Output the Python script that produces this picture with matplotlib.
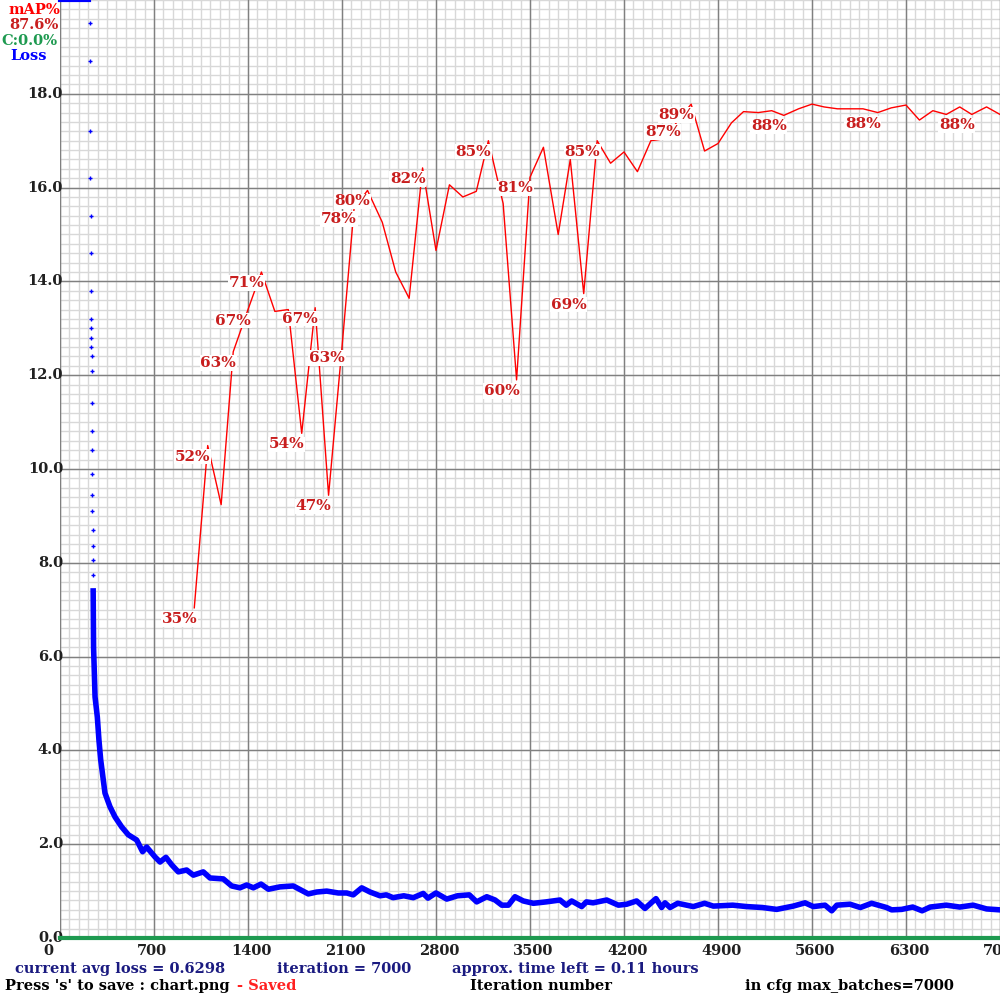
import numpy as np
import matplotlib
matplotlib.use("Agg")
import matplotlib.pyplot as plt

# ---------------- data ----------------
# first iterations: loss above the chart top, drawn clipped at the top edge
early_iter = [0, 60, 120, 180, 215]
early_loss = [900.0, 250.0, 60.0, 30.0, 21.0]

# sparse dots while loss falls fast
dot_iter = [220, 222, 224, 226, 228, 229, 230, 231, 232, 233, 234, 235, 236, 237, 238, 239, 240, 241, 242, 243, 244, 245, 246]
dot_loss = [19.5, 18.7, 17.2, 16.2, 15.4, 14.6, 13.8, 13.2, 13.0, 12.8, 12.6, 12.4, 12.1, 11.4, 10.8, 10.4, 9.9, 9.45, 9.1, 8.7, 8.35, 8.05, 7.75]

# continuous loss curve
loss_iter = [247, 250, 261, 278, 290, 303, 335, 372, 410, 459, 509, 571, 615, 645, 707, 745, 789, 832, 881,
             943, 993, 1067, 1117, 1216, 1278, 1340, 1390, 1440, 1497, 1552, 1638, 1737, 1849, 1911, 1986,
             2072, 2135, 2184, 2247, 2309, 2383, 2430, 2480, 2560, 2631, 2705, 2740, 2800, 2880, 2960, 3048,
             3103, 3178, 3240, 3290, 3339, 3388, 3450, 3525, 3620, 3723, 3770, 3810, 3885, 3920, 3970, 4071,
             4158, 4220, 4294, 4356, 4438, 4480, 4505, 4543, 4600, 4716, 4800, 4865, 5010, 5113, 5230, 5337,
             5460, 5548, 5610, 5697, 5747, 5785, 5883, 5960, 6044, 6155, 6193, 6268, 6350, 6420, 6480, 6600,
             6700, 6800, 6900, 7000]
loss_vals = [7.4, 6.2, 5.14, 4.71, 4.22, 3.8, 3.09, 2.8, 2.58, 2.37, 2.2, 2.09, 1.84, 1.94, 1.73, 1.62, 1.72, 1.56, 1.41,
             1.45, 1.34, 1.41, 1.28, 1.26, 1.11, 1.07, 1.13, 1.07, 1.15, 1.04, 1.09, 1.11, 0.94, 0.98, 1.0,
             0.96, 0.96, 0.92, 1.07, 0.98, 0.9, 0.92, 0.86, 0.9, 0.86, 0.95, 0.85, 0.96, 0.83, 0.9, 0.92,
             0.77, 0.88, 0.81, 0.7, 0.7, 0.88, 0.79, 0.74, 0.77, 0.81, 0.7, 0.79, 0.67, 0.77, 0.75, 0.81,
             0.7, 0.72, 0.79, 0.63, 0.84, 0.65, 0.75, 0.65, 0.74, 0.67, 0.74, 0.68, 0.7, 0.67, 0.65, 0.61,
             0.68, 0.75, 0.67, 0.7, 0.58, 0.7, 0.72, 0.65, 0.74, 0.65, 0.6, 0.61, 0.66, 0.58, 0.66, 0.7,
             0.66, 0.7, 0.62, 0.6]

# mAP evaluations (percent)
map_iter = [1000, 1100, 1200, 1290, 1400, 1500, 1600, 1700, 1800, 1900, 2000, 2100, 2190, 2290, 2400, 2500,
            2600, 2700, 2800, 2900, 3000, 3100, 3190, 3300, 3400, 3500, 3600, 3710, 3800, 3900, 4000, 4100,
            4200, 4300, 4400, 4500, 4600, 4700, 4800, 4900, 5000, 5090, 5200, 5300, 5390, 5500, 5600, 5690,
            5790, 5880, 5980, 6090, 6190, 6300, 6400, 6500, 6600, 6700, 6790, 6900, 7000]
map_pct = [35.2, 52.5, 46.2, 62.5, 67.0, 71.0, 66.8, 67.0, 53.8, 67.2, 47.2, 63.0, 77.8, 79.7, 76.3, 71.0,
           68.2, 82.1, 73.3, 80.3, 79.0, 79.6, 85.0, 78.3, 59.5, 81.1, 84.3, 75.0, 83.0, 68.7, 85.0, 82.6,
           83.8, 81.7, 85.0, 85.2, 87.1, 88.9, 83.9, 84.7, 86.9, 88.1, 88.0, 88.2, 87.7, 88.4, 88.9, 88.6,
           88.4, 88.4, 88.4, 88.0, 88.5, 88.8, 87.2, 88.2, 87.8, 88.6, 87.8, 88.6, 87.8]
label_idx = [0, 1, 3, 4, 5, 9, 8, 11, 10, 12, 13, 17, 22, 25, 24, 30, 29, 36, 37, 44, 51, 58]
label_txt = ["35%", "52%", "63%", "67%", "71%", "67%", "54%", "63%", "47%", "78%", "80%", "82%", "85%",
             "81%", "60%", "85%", "69%", "87%", "89%", "88%", "88%", "88%"]

x_ticks = [0, 700, 1400, 2100, 2800, 3500, 4200, 4900, 5600, 6300, 7000]
y_ticks = [0.0, 2.0, 4.0, 6.0, 8.0, 10.0, 12.0, 14.0, 16.0, 18.0]

MAX_ITER = 7000
Y_TOP = 20.0

# ---------------- plotting ----------------
fig = plt.figure(figsize=(10, 10), dpi=100)
ax = fig.add_axes([0.06, 0.062, 0.94, 0.938])
ax.set_xlim(0, MAX_ITER)
ax.set_ylim(0, Y_TOP)
ax.set_xticks([])
ax.set_yticks([])
for s in ax.spines.values():
    s.set_visible(False)

# grid: light minor lines, then solid gray major lines on top
for v in range(0, MAX_ITER + 1, 70):
    ax.axvline(v, color="#d8d8d8", lw=1, zorder=0.5)
for k in range(0, 101):
    ax.axhline(k * 0.2, color="#d8d8d8", lw=1, zorder=0.5)
for v in x_ticks:
    ax.axvline(v, color="#808080", lw=1, zorder=1)
for v in y_ticks:
    ax.axhline(v, color="#808080", lw=1, zorder=1)
ax.axvline(0, color="#808080", lw=1.5, zorder=1)

font = dict(family="DejaVu Serif", fontsize=10.5, fontweight="bold")
for v in y_ticks:
    ax.annotate(f"{v:.1f}", (0, v), xytext=(3, 0), textcoords="offset pixels",
                ha="right", va="center", color="#202020", annotation_clip=False, **font)
for v in x_ticks:
    ax.annotate(str(v), (v, 0), xytext=(-17, -13), textcoords="offset pixels",
                ha="left", va="center", color="#202020", annotation_clip=False, **font)

# precision line (0%) along the bottom
ax.plot([0, MAX_ITER], [0, 0], color="#1e9a50", lw=3, clip_on=False, zorder=4)

# loss
ax.plot(early_iter, np.minimum(early_loss, Y_TOP), color="#0000ff", lw=3, clip_on=False, zorder=5)
ax.plot(dot_iter, dot_loss, "+", color="#0000ff", ms=3, mew=1, zorder=5)
ax.plot(loss_iter, loss_vals, color="#0000ff", lw=4, zorder=5)

# mAP
map_y = [p / 100 * Y_TOP for p in map_pct]
ax.plot(map_iter, map_y, color="#ff0000", lw=1, zorder=6)
for i, t in zip(label_idx, label_txt):
    ax.annotate(t, (map_iter[i], map_y[i]), xytext=(-15, -11), textcoords="offset pixels",
                ha="center", va="center", color="#c81e1e", fontsize=11, fontweight="bold",
                family="DejaVu Serif", zorder=7,
                bbox=dict(boxstyle="square,pad=0.05", fc="white", ec="none"))

# top-left legend
fig.text(0.034, 0.990, "mAP%", color="#ff0000", ha="center", va="center", **font)
fig.text(0.034, 0.975, "87.6%", color="#c81e1e", ha="center", va="center", **font)
fig.text(0.029, 0.959, "C:0.0%", color="#1e9a50", ha="center", va="center", **font)
fig.text(0.029, 0.944, "Loss", color="#0000ff", ha="center", va="center", **font)

# bottom status lines
navy = "#1a1a80"
fig.text(0.015, 0.031, "current avg loss = 0.6298", color=navy, va="center", **font)
fig.text(0.277, 0.031, "iteration = 7000", color=navy, va="center", **font)
fig.text(0.452, 0.031, "approx. time left = 0.11 hours", color=navy, va="center", **font)
fig.text(0.005, 0.014, "Press 's' to save : chart.png", color="black", va="center", **font)
fig.text(0.237, 0.014, "- Saved", color="#ff2020", va="center", **font)
fig.text(0.470, 0.014, "Iteration number", color="black", va="center", **font)
fig.text(0.745, 0.014, "in cfg max_batches=7000", color="black", va="center", **font)

fig.savefig("out.png", dpi=100, facecolor="white")
